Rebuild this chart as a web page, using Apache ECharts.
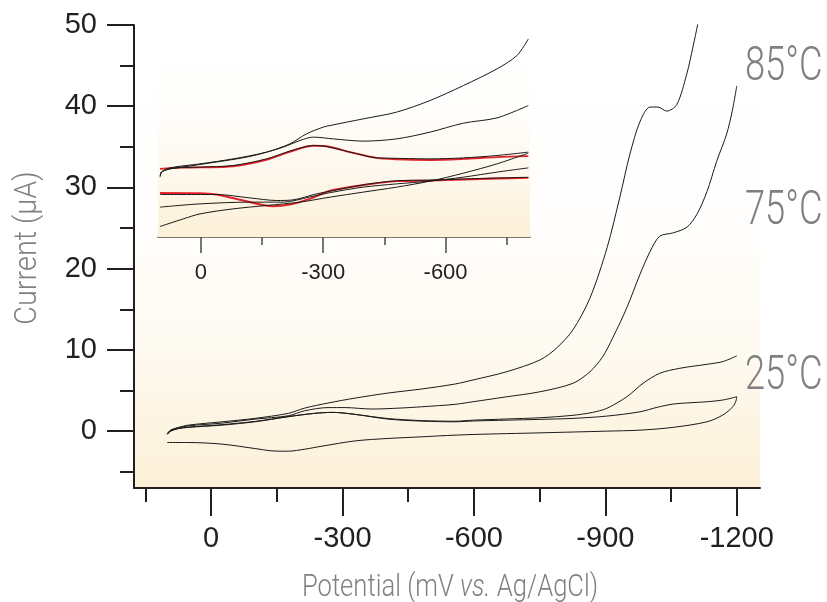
<!DOCTYPE html>
<html>
<head>
<meta charset="utf-8">
<script src="https://cdn.jsdelivr.net/npm/echarts@6/dist/echarts.min.js"></script>
<style>html,body{margin:0;padding:0;background:#fff;}#c{width:827px;height:602px;}</style>
</head>
<body>
<div id="c"></div>
<script>
// ---- Main plot data: [potential mV, current µA] ----
const cv85 = [[100,-0.3],[92,0.15],[75,0.45],[52,0.74],[-25,1.15],[-100,1.57],[-176,2.19],[-214,2.84],[-267,3.46],[-329,4.07],[-404,4.69],[-481,5.19],[-557,5.8],[-598,6.3],[-675,7.32],[-751,8.77],[-789,10.25],[-826,12.47],[-865,16.4],[-904,22.6],[-933,28.8],[-956,34.1],[-979,38.1],[-1002,39.9],[-1020,39.9],[-1040,39.4],[-1063,40.2],[-1086,44.0],[-1100,47.3],[-1111,50.1],[-1125,53.5]];
const cv75 = [[100,-0.3],[92,0.1],[75,0.4],[52,0.65],[-25,0.99],[-100,1.48],[-176,1.89],[-214,2.51],[-267,2.9],[-306,2.9],[-367,2.72],[-431,2.84],[-481,3.0],[-557,3.3],[-598,3.62],[-675,4.23],[-751,4.85],[-826,5.89],[-865,7.32],[-894,9.17],[-917,11.5],[-949,15.2],[-979,19.3],[-1002,22.1],[-1024,24.0],[-1054,24.4],[-1086,25.1],[-1109,26.7],[-1132,29.5],[-1154,33.2],[-1177,36.6],[-1190,39.5],[-1200,42.5]];
const cv25a = [[100,-0.35],[92,0.05],[75,0.35],[52,0.5],[-25,0.8],[-100,1.2],[-176,1.8],[-237,2.2],[-278,2.31],[-329,2.06],[-404,1.55],[-481,1.3],[-557,1.22],[-598,1.35],[-675,1.5],[-751,1.65],[-826,1.95],[-870,2.3],[-903,2.8],[-949,4.23],[-986,5.89],[-1024,7.12],[-1070,7.74],[-1132,8.23],[-1168,8.56],[-1200,9.26]];
const cv25bForward = [[100,-0.4],[92,0.0],[75,0.3],[52,0.46],[-25,0.74],[-100,1.15],[-176,1.77],[-237,2.19],[-278,2.31],[-329,2.06],[-404,1.48],[-481,1.23],[-557,1.15],[-598,1.25],[-675,1.35],[-751,1.45],[-826,1.57],[-903,1.85],[-979,2.38],[-1018,2.93],[-1054,3.33],[-1093,3.49],[-1132,3.62],[-1168,3.83],[-1200,4.23]];
const cv25bReverse = [[-1198,3.7],[-1191,3.0],[-1168,1.98],[-1132,1.15],[-1054,0.46],[-979,0.12],[-903,0.0],[-751,-0.21],[-598,-0.41],[-522,-0.58],[-481,-0.7],[-404,-0.9],[-329,-1.2],[-253,-1.85],[-214,-2.22],[-176,-2.47],[-139,-2.43],[-100,-2.14],[-25,-1.6],[52,-1.4],[100,-1.4]];

// ---- Inset data: [potential mV, current (relative)] ----
const insetBlack1 = [[100,-0.21],[96,0.19],[76,0.53],[2,0.85],[-79,1.25],[-161,1.79],[-218,2.45],[-259,3.25],[-300,3.79],[-317,3.92],[-398,4.45],[-480,4.99],[-562,5.92],[-644,7.12],[-726,8.45],[-775,9.52],[-803,10.85]];
const insetBlack2 = [[100,-0.08],[92,0.32],[2,0.8],[-120,1.44],[-202,2.19],[-243,2.72],[-276,2.99],[-325,2.85],[-398,2.67],[-480,2.85],[-562,3.39],[-644,4.11],[-726,4.53],[-803,5.52]];
const insetBlack3 = [[100,0.11],[76,0.48],[2,0.59],[-79,0.72],[-161,1.25],[-218,1.87],[-276,2.32],[-308,2.24],[-366,1.79],[-431,1.33],[-456,1.31],[-562,1.25],[-644,1.33],[-726,1.52],[-803,1.79]];
const insetBlack4 = [[100,-1.6],[-38,-1.6],[-120,-1.87],[-186,-2.08],[-226,-2.03],[-284,-1.55],[-333,-1.23],[-407,-0.78],[-480,-0.5],[-562,-0.45],[-644,-0.36],[-726,-0.28],[-803,-0.22]];
const insetBlack5 = [[100,-2.61],[2,-2.35],[-120,-2.21],[-202,-2.21],[-267,-1.8],[-317,-1.45],[-398,-1.01],[-480,-0.75],[-562,-0.53],[-644,-0.21],[-726,0.19],[-803,0.53]];
const insetBlack6 = [[100,-4.16],[43,-3.55],[2,-3.15],[-79,-2.75],[-161,-2.48],[-243,-2.21],[-317,-1.81],[-398,-1.41],[-480,-1.01],[-562,-0.53],[-644,0.11],[-726,0.85],[-803,1.71]];
const insetRedForward = [[100,0.45],[50,0.55],[2,0.57],[-79,0.66],[-161,1.18],[-218,1.82],[-276,2.3],[-308,2.26],[-366,1.79],[-431,1.33],[-480,1.22],[-562,1.17],[-644,1.25],[-726,1.39],[-803,1.47]];
const insetRedReverse = [[100,-1.47],[2,-1.49],[-38,-1.6],[-104,-2.08],[-177,-2.53],[-218,-2.4],[-267,-1.95],[-317,-1.3],[-407,-0.8],[-480,-0.53],[-562,-0.48],[-644,-0.4],[-726,-0.32],[-803,-0.27]];

// ---- Ticks / labels ----
const mainXMajor = [0,-300,-600,-900,-1200];
const mainXMinor = [150,-150,-450,-750,-1050];
const mainYMajor = [0,10,20,30,40,50];
const mainYMinor = [-5,5,15,25,35,45];
const insetXMajor = [0,-300,-600];
const insetXMinor = [-150,-450,-750];
const tempLabels = ['85°C','75°C','25°C'];

const AX = '#231f20';
const GRAY = '#808080';
const chart = echarts.init(document.getElementById('c'), null, {renderer:'canvas'});

function grad(stops){ return {type:'linear',x:0,y:0,x2:0,y2:1,colorStops:stops}; }
const plain = v => String(v);

function line(data, xi, yi, color, w, z){
  return {type:'line', data:data, xAxisIndex:xi, yAxisIndex:yi, showSymbol:false, symbol:'none',
    smooth:0.3, lineStyle:{color:color, width:w}, z:z, silent:true};
}

chart.setOption({
  animation:false,
  backgroundColor:'#ffffff',
  grid:[
    {left:134, right:67, top:25, bottom:114, show:true, borderWidth:0,
     backgroundColor: grad([{offset:0,color:'#ffffff'},{offset:0.4,color:'#fffefd'},{offset:0.7,color:'#fefaf1'},{offset:1,color:'#fcf0d7'}])},
    {left:158, width:372, top:37, bottom:365, show:true, borderWidth:0, z:1,
     backgroundColor: grad([{offset:0,color:'#ffffff'},{offset:0.35,color:'#fffefc'},{offset:0.7,color:'#fef8ec'},{offset:1,color:'#fcf0d7'}])}
  ],
  xAxis:[
    {type:'value', gridIndex:0, position:'bottom', inverse:true, min:-1253, max:176,
     axisLine:{show:true, onZero:false, lineStyle:{color:AX, width:2}},
     axisTick:{show:true, customValues:mainXMajor, length:28, lineStyle:{color:AX, width:2}},
     axisLabel:{show:true, customValues:mainXMajor, formatter:plain, margin:36, fontSize:29, color:AX, fontFamily:'Liberation Sans, Arial, sans-serif'},
     splitLine:{show:false}},
    {type:'value', gridIndex:0, position:'bottom', inverse:true, min:-1253, max:176,
     axisLine:{show:false, onZero:false},
     axisTick:{show:true, customValues:mainXMinor, length:14, lineStyle:{color:AX, width:2}},
     axisLabel:{show:false}, splitLine:{show:false}},
    {type:'value', gridIndex:1, position:'bottom', inverse:true, min:-807, max:105,
     axisLine:{show:true, onZero:false, lineStyle:{color:'#4a4a4a', width:1.5}},
     axisTick:{show:true, customValues:insetXMajor, length:16, lineStyle:{color:'#4a4a4a', width:1.5}},
     axisLabel:{show:true, customValues:insetXMajor, formatter:plain, margin:25, fontSize:22, color:AX, fontFamily:'Liberation Sans, Arial, sans-serif'},
     splitLine:{show:false}},
    {type:'value', gridIndex:1, position:'bottom', inverse:true, min:-807, max:105,
     axisLine:{show:false, onZero:false},
     axisTick:{show:true, customValues:insetXMinor, length:8, lineStyle:{color:'#4a4a4a', width:1.5}},
     axisLabel:{show:false}, splitLine:{show:false}}
  ],
  yAxis:[
    {type:'value', gridIndex:0, position:'left', min:-7, max:50,
     axisLine:{show:true, onZero:false, lineStyle:{color:AX, width:2}},
     axisTick:{show:true, customValues:mainYMajor, length:27, lineStyle:{color:AX, width:2}},
     axisLabel:{show:true, customValues:mainYMajor, formatter:plain, margin:37, fontSize:29, color:AX, fontFamily:'Liberation Sans, Arial, sans-serif'},
     splitLine:{show:false}},
    {type:'value', gridIndex:0, position:'left', min:-7, max:50,
     axisLine:{show:false, onZero:false},
     axisTick:{show:true, customValues:mainYMinor, length:14, lineStyle:{color:AX, width:2}},
     axisLabel:{show:false}, splitLine:{show:false}},
    {type:'value', gridIndex:1, min:-5, max:11, show:false}
  ],
  series:[
    Object.assign(line(cv85,0,0,'#1a1a1a',1,3),{name:'85°C'}),
    Object.assign(line(cv75,0,0,'#1a1a1a',1,3),{name:'75°C'}),
    Object.assign(line(cv25a,0,0,'#1a1a1a',1,3),{name:'25°C (1)'}),
    Object.assign(line(cv25bForward.concat(cv25bReverse),0,0,'#1a1a1a',1,3),{name:'25°C (2)'}),
    line(insetRedForward,2,2,'#e3232a',2,3),
    line(insetRedReverse,2,2,'#e3232a',2,3),
    line(insetBlack1,2,2,'#1a1a1a',1,4),
    line(insetBlack2,2,2,'#1a1a1a',1,4),
    line(insetBlack3,2,2,'#1a1a1a',1,4),
    line(insetBlack4,2,2,'#1a1a1a',1,4),
    line(insetBlack5,2,2,'#1a1a1a',1,4),
    line(insetBlack6,2,2,'#1a1a1a',1,4)
  ],
  graphic:[
    {type:'text', x:745, y:68, scaleX:0.74, silent:true,
     style:{text:tempLabels[0], font:'300 49px Roboto', fill:GRAY, align:'left', verticalAlign:'middle'}},
    {type:'text', x:745, y:212, scaleX:0.74, silent:true,
     style:{text:tempLabels[1], font:'300 49px Roboto', fill:GRAY, align:'left', verticalAlign:'middle'}},
    {type:'text', x:745, y:377, scaleX:0.74, silent:true,
     style:{text:tempLabels[2], font:'300 49px Roboto', fill:GRAY, align:'left', verticalAlign:'middle'}},
    {type:'text', x:28, y:248, rotation:Math.PI/2, scaleX:0.9, silent:true,
     style:{text:'Current (µA)', font:'300 32px Roboto', fill:GRAY, align:'center', verticalAlign:'middle'}},
    {type:'text', x:450, y:588, scaleX:0.8, silent:true,
     style:{text:'{n|Potential (mV }{i|vs.}{n| Ag/AgCl)}', align:'center', verticalAlign:'middle',
       rich:{n:{fontFamily:'Roboto', fontWeight:300, fontSize:32, fill:GRAY},
             i:{fontFamily:'Roboto', fontWeight:300, fontStyle:'italic', fontSize:32, fill:GRAY}}}}
  ]
});
</script>
</body>
</html>
